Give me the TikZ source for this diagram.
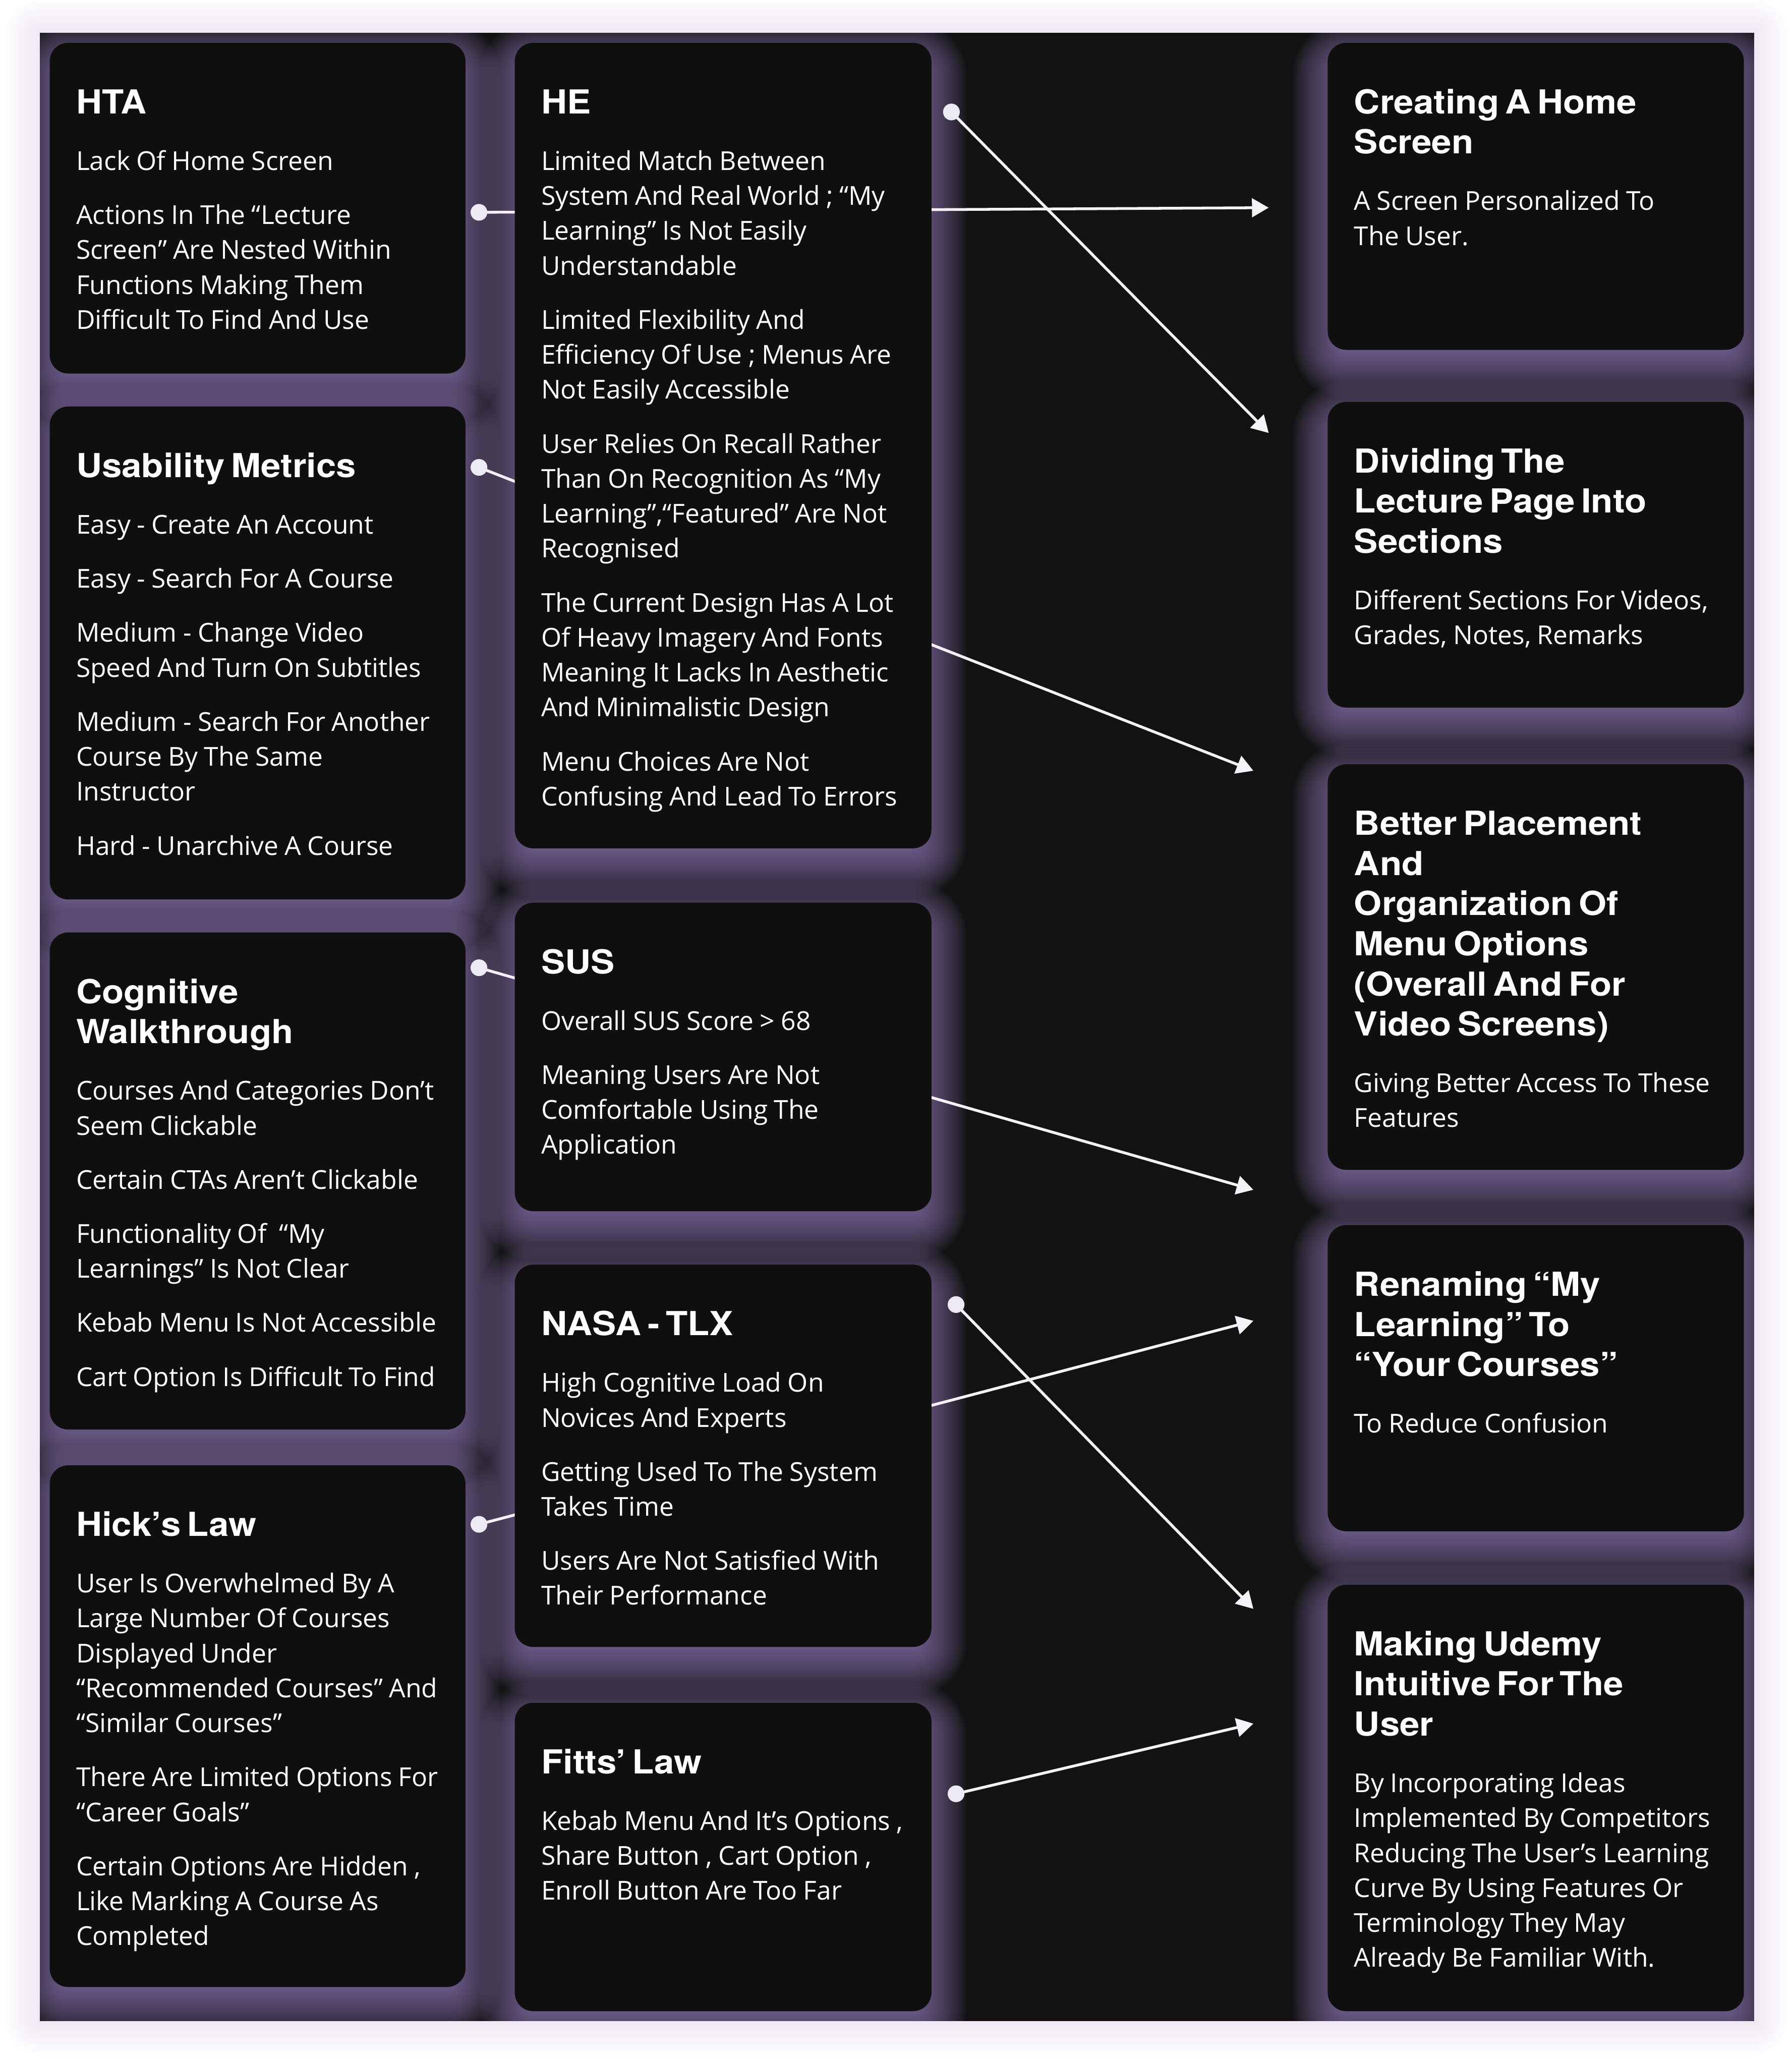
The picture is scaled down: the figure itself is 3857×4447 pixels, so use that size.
\documentclass[tikz,border=0pt]{standalone}
\usepackage{fontspec}
\setmainfont{Open Sans}
\newfontfamily\titlefont{TeX Gyre Heros}[FakeStretch=1.08]
\usetikzlibrary{arrows.meta,fit,calc}
\definecolor{panelc}{HTML}{121212}
\definecolor{cardc}{HTML}{0F0F0F}
\definecolor{glowc}{HTML}{A086CA}
\definecolor{haloc}{HTML}{E2D3F4}
\definecolor{dotc}{HTML}{EEEAF4}
\definecolor{linec}{HTML}{F4F2F7}
\pgfdeclarelayer{halo}
\pgfdeclarelayer{glow}
\pgfdeclarelayer{wires}
\pgfsetlayers{halo,glow,wires,main}

\newcommand\ctitle[1]{\par{\titlefont\bfseries\fontsize{17.8pt}{21.6pt}\selectfont\rule{0pt}{16pt}#1\par}\vspace{1.3pt}}
\newcommand\cardtext[1]{\setlength\parskip{10.3pt}\fontsize{14pt}{18.8pt}\selectfont #1\par}

\tikzset{
  card/.style={fill=cardc, rounded corners=10pt, inner sep=0pt, draw=none},
  txt/.style={anchor=north west, inner sep=0pt, text width=215pt, align=left, text=white},
  dotnode/.style={circle, fill=dotc, minimum size=9pt, inner sep=0pt},
  wire/.style={draw=linec, line width=1.5pt, -{Triangle[length=9pt,width=10pt]}},
}

% #1 name, #2 left, #3 top, #4 right, #5 bottom, #6 content
\newcommand\card[6]{%
  \begin{pgfonlayer}{glow}
    \begin{scope}
      \clip (86,71) rectangle (3776,4350);
      \foreach \k in {0,...,29}{%
        \pgfmathsetmacro\e{4*\k-40}%
        \pgfmathsetmacro\rr{max(10+0.25*\e,0.5)}%
        \fill[glowc, opacity=0.04, rounded corners=\rr pt]
          (#2-\e, #3-\e+30) rectangle (#4+\e, #5+\e+30);
      }
    \end{scope}
  \end{pgfonlayer}
  \node[card, fit={(#2,#3) (#4,#5)}] (#1) {};
  \node[txt] (#1-text) at ($(#1.north west)+(57,25)$) {\cardtext{#6}};
}

\begin{document}
\begin{tikzpicture}[x=0.25pt,y=-0.25pt]
\useasboundingbox (0,0) rectangle (3857,4447);
\begin{pgfonlayer}{halo}
  \fill[white] (0,0) rectangle (3857,4447);
  \foreach \k in {1,...,12}{%
    \pgfmathsetmacro\e{6*\k}%
    \fill[haloc, opacity=0.04, rounded corners=0.25*\e pt] (86-\e,71-\e) rectangle (3776+\e,4350+\e);
  }
  \fill[panelc] (86,71) rectangle (3776,4350);
\end{pgfonlayer}

% column 1
\card{hta}{107}{92}{1002}{804}{%
\ctitle{HTA}
Lack Of Home Screen\par
Actions In The “Lecture\\Screen” Are Nested Within\\Functions Making Them\\Difficult To Find And Use}

\card{um}{107}{875}{1002}{1936}{%
\ctitle{Usability Metrics}
Easy - Create An Account\par
Easy - Search For A Course\par
Medium - Change Video\\Speed And Turn On Subtitles\par
Medium - Search For Another\\Course By The Same\\Instructor\par
Hard - Unarchive A Course}

\card{cw}{107}{2007}{1002}{3077}{%
\ctitle{Cognitive\\Walkthrough}
Courses And Categories Don’t\\Seem Clickable\par
Certain CTAs Aren’t Clickable\par
Functionality Of\ \ “My\\Learnings” Is Not Clear\par
Kebab Menu Is Not Accessible\par
Cart Option Is Difficult To Find}

\card{hl}{107}{3154}{1002}{4277}{%
\ctitle{Hick’s Law}
User Is Overwhelmed By A\\Large Number Of Courses\\Displayed Under\\“Recommended Courses” And\\“Similar Courses”\par
There Are Limited Options For\\“Career Goals”\par
Certain Options Are Hidden ,\\Like Marking A Course As\\Completed}

% column 2
\card{he}{1108}{92}{2005}{1826}{%
\ctitle{HE}
Limited Match Between\\System And Real World ; “My\\Learning” Is Not Easily\\Understandable\par
Limited Flexibility And\\Efficiency Of Use ; Menus Are\\Not Easily Accessible\par
User Relies On Recall Rather\\Than On Recognition As “My\\Learning”,“Featured” Are Not\\Recognised\par
The Current Design Has A Lot\\Of Heavy Imagery And Fonts\\Meaning It Lacks In Aesthetic\\And Minimalistic Design\par
Menu Choices Are Not\\Confusing And Lead To Errors}

\card{sus}{1108}{1943}{2005}{2607}{%
\ctitle{SUS}
Overall SUS Score > 68\par
Meaning Users Are Not\\Comfortable Using The\\Application}

\card{nasa}{1108}{2722}{2005}{3545}{%
\ctitle{NASA - TLX}
High Cognitive Load On\\Novices And Experts\par
Getting Used To The System\\Takes Time\par
Users Are Not Satisfied With\\Their Performance}

\card{fitts}{1108}{3665}{2005}{4329}{%
\ctitle{Fitts’ Law}
Kebab Menu And It’s Options ,\\Share Button , Cart Option ,\\Enroll Button Are Too Far}

% column 3
\card{home}{2858}{92}{3754}{753}{%
\ctitle{Creating A Home\\Screen}
A Screen Personalized To\\The User.}

\card{divide}{2858}{865}{3754}{1523}{%
\ctitle{Dividing The\\Lecture Page Into\\Sections}
Different Sections For Videos,\\Grades, Notes, Remarks}

\card{place}{2858}{1645}{3754}{2518}{%
\ctitle{Better Placement\\And\\Organization Of\\Menu Options\\(Overall And For\\Video Screens)}
Giving Better Access To These\\Features}

\card{rename}{2858}{2637}{3754}{3296}{%
\ctitle{Renaming “My\\Learning” To\\“Your Courses”}
To Reduce Confusion}

\card{intuit}{2858}{3411}{3754}{4329}{%
\ctitle{Making Udemy\\Intuitive For The\\User}
By Incorporating Ideas\\Implemented By Competitors\\Reducing The User’s Learning\\Curve By Using Features Or\\Terminology They May\\Already Be Familiar With.}

% dots and arrow ends
\node[dotnode] (dot-hta) at (1031,457) {};
\node[dotnode] (dot-um) at (1031,1006) {};
\node[dotnode] (dot-cw) at (1031,2083) {};
\node[dotnode] (dot-hl) at (1031,3281) {};
\node[dotnode] (dot-he) at (2048,241) {};
\node[dotnode] (dot-nasa) at (2058,2808) {};
\node[dotnode] (dot-fitts) at (2058,3861) {};
\coordinate (tip-a) at (2731,447);
\coordinate (tip-b) at (2731,932);
\coordinate (tip-c) at (2698,1659);
\coordinate (tip-d) at (2698,2561);
\coordinate (tip-e) at (2698,2843);
\coordinate (tip-f) at (2698,3463);
\coordinate (tip-g) at (2698,3710);

\begin{pgfonlayer}{wires}
  \draw[wire] (dot-hta.center) -- (tip-a);
  \draw[wire] (dot-he.center) -- (tip-b);
  \draw[wire] (dot-um.center) -- (tip-c);
  \draw[wire] (dot-cw.center) -- (tip-d);
  \draw[wire] (dot-hl.center) -- (tip-e);
  \draw[wire] (dot-nasa.center) -- (tip-f);
  \draw[wire] (dot-fitts.center) -- (tip-g);
\end{pgfonlayer}
\end{tikzpicture}
\end{document}
